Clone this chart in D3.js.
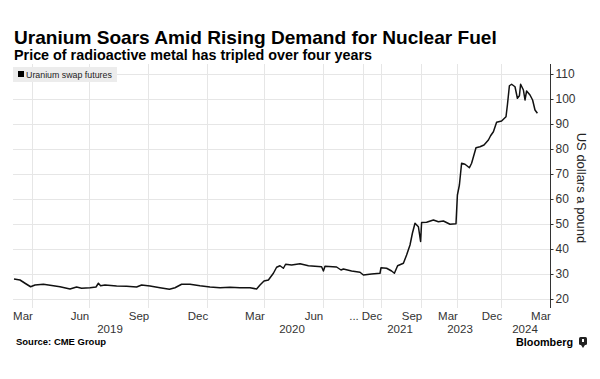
<!DOCTYPE html>
<html>
<head>
<meta charset="utf-8">
<script src="https://cdn.jsdelivr.net/npm/d3@7"></script>
<style>
  html, body { margin: 0; padding: 0; background: #fff; }
  svg { display: block; }
  text { font-family: "Liberation Sans", Arial, sans-serif; }
</style>
</head>
<body>
<svg id="chart" width="600" height="379"></svg>
<script>
// ---- Data ----
// Observation index along Bloomberg's compressed time axis, and the price (US$/lb)
const obs = [0, 3, 5.5, 8.3, 10.5, 14.7, 19.7, 23, 28, 31.3, 33.8, 38, 41, 42.2, 43.3, 45.5,
  51.3, 56.3, 61.3, 63.8, 68, 73, 77.7, 80.5, 83.8, 88, 93, 98, 103, 108, 113, 118, 121.3,
  123, 125, 127.2, 129.7, 131.3, 133, 134.7, 135.8, 138.8, 143, 147.2, 153.8, 154.7, 155.5,
  161.3, 163.5, 164.7, 168.8, 173, 174.7, 178.8, 183, 183.5, 186.3, 188.8, 190.2, 191.8,
  194.7, 196.3, 198, 199.2, 200.5, 202.2, 203.3, 203.8, 206.3, 209.7, 212.2, 214.7, 218,
  221, 221.7, 222.7, 223.8, 225.5, 227.7, 228.8, 231, 233, 235, 237.2, 238.3, 239.7, 241.3,
  243.8, 246, 246.7, 247.7, 248.8, 250.5, 251.7, 252.7, 253.3, 254.7, 255.5, 256.3, 258,
  259.3, 260.5, 261.7];
const price = [28.0, 27.6, 26.3, 24.9, 25.6, 25.9, 25.3, 24.9, 24.0, 24.8, 24.3, 24.5, 24.8, 26.3, 25.3, 25.6,
  25.2, 25.1, 24.8, 25.6, 25.2, 24.5, 23.9, 24.5, 25.9, 25.9, 25.3, 24.8, 24.5, 24.7, 24.5, 24.5, 24.0,
  25.6, 27.2, 27.6, 30.3, 32.7, 33.3, 32.3, 33.9, 33.6, 34.1, 33.3, 32.9, 31.2, 33.1,
  32.8, 31.6, 32.0, 31.2, 30.7, 29.6, 30.0, 30.3, 32.5, 32.3, 31.2, 30.3, 33.3,
  34.3, 37.6, 41.6, 46.3, 50.3, 48.9, 43.0, 50.6, 50.7, 51.6, 50.9, 51.2, 49.9,
  50.1, 61.6, 65.6, 74.3, 73.9, 72.5, 74.3, 80.5, 80.9, 81.6, 83.6, 85.3, 86.9, 90.7,
  91.2, 92.9, 97.6, 105.3, 105.9, 104.9, 100.3, 101.3, 105.9, 103.6, 99.6, 103.2, 101.6,
  99.6, 95.6, 94.3];

const monthLabels = ['Mar', 'Jun', 'Sep', 'Dec', 'Mar', 'Jun', '...', 'Dec', 'Sep', 'Mar', 'Dec', 'Mar'];
const monthPos    = [9, 37.5, 67, 96.5, 125, 154.5, 174.5, 183.5, 203.5, 221.5, 243.5, 268];
const yearLabels  = ['2019', '2020', '2021', '2023', '2024'];
const yearPos     = [48, 139, 193, 223, 255.5];
const yTicks      = [20, 30, 40, 50, 60, 70, 80, 90, 100, 110];

const title = 'Uranium Soars Amid Rising Demand for Nuclear Fuel';
const subtitle = 'Price of radioactive metal has tripled over four years';
const seriesName = 'Uranium swap futures';
const yTitle = 'US dollars a pound';
const source = 'Source: CME Group';

// ---- Layout ----
const svg = d3.select('#chart');
const x = d3.scaleLinear().domain([0, 268]).range([14, 550]);
const y = d3.scaleLinear().domain([16.4, 114]).range([308, 64]);
const plotTop = 64, plotBottom = 308;

function fitText(sel, target) {
  const len = sel.node().getComputedTextLength();
  const fs = parseFloat(sel.attr('font-size'));
  sel.attr('font-size', (fs * target / len).toFixed(2));
}

// Titles
const t1 = svg.append('text').attr('x', 14).attr('y', 44)
  .attr('font-size', 19).attr('font-weight', 700).attr('fill', '#000').text(title);
fitText(t1, 483);
const t2 = svg.append('text').attr('x', 14).attr('y', 59.5)
  .attr('font-size', 13).attr('font-weight', 700).attr('fill', '#000').text(subtitle);
fitText(t2, 358);

// Grid
const g = svg.append('g');
g.selectAll('line.h').data(yTicks).join('line')
  .attr('x1', 13).attr('x2', 550)
  .attr('y1', d => Math.round(y(d)) + 0.5).attr('y2', d => Math.round(y(d)) + 0.5)
  .attr('stroke', '#e6e6e6').attr('stroke-width', 1);
g.selectAll('line.v').data(monthPos).join('line')
  .attr('x1', d => Math.round(x(d)) + 0.5).attr('x2', d => Math.round(x(d)) + 0.5)
  .attr('y1', plotTop).attr('y2', plotBottom)
  .attr('stroke', '#e6e6e6').attr('stroke-width', 1);

// Legend
svg.append('rect').attr('x', 13).attr('y', 67).attr('width', 104).attr('height', 15).attr('fill', '#ececec');
svg.append('rect').attr('x', 18).attr('y', 71).attr('width', 6).attr('height', 6).attr('fill', '#000');
const lt = svg.append('text').attr('x', 26).attr('y', 78).attr('font-size', 10).attr('fill', '#222').text(seriesName);
fitText(lt, 86);

// Line
const pts = obs.map((o, i) => [o, price[i]]);
svg.append('path').datum(pts)
  .attr('fill', 'none').attr('stroke', '#111').attr('stroke-width', 1.5)
  .attr('stroke-linejoin', 'round')
  .attr('d', d3.line().x(d => x(d[0])).y(d => y(d[1])));

// Y axis (right)
const yAxis = d3.axisRight(y).tickValues(yTicks).tickSize(3).tickPadding(2).tickFormat(d3.format('d'));
const ya = svg.append('g').attr('transform', 'translate(550.5,0)').call(yAxis);
ya.select('.domain').attr('d', `M0,${plotTop}V${plotBottom}`).attr('stroke', '#333');
ya.selectAll('.tick line').attr('stroke', '#333');
ya.selectAll('.tick text').attr('font-size', 12).attr('fill', '#333')
  .attr('font-family', '"Liberation Sans", Arial, sans-serif');

svg.append('text').attr('transform', 'translate(577,188) rotate(90)')
  .attr('text-anchor', 'middle').attr('font-size', 13).attr('fill', '#222').text(yTitle);

// X axis labels
svg.append('g').selectAll('text').data(monthLabels).join('text')
  .attr('x', (d, i) => x(monthPos[i]) - 9).attr('y', 319.5)
  .attr('text-anchor', 'middle').attr('font-size', 11.5).attr('fill', '#333').text(d => d);
svg.append('g').selectAll('text').data(yearLabels).join('text')
  .attr('x', (d, i) => x(yearPos[i])).attr('y', 332.5)
  .attr('text-anchor', 'middle').attr('font-size', 11.5).attr('fill', '#333').text(d => d);

// Footer
const st = svg.append('text').attr('x', 16).attr('y', 345).attr('font-size', 10)
  .attr('font-weight', 700).attr('fill', '#000').text(source);
fitText(st, 90);
const bt = svg.append('text').attr('x', 516).attr('y', 346).attr('font-size', 11)
  .attr('font-weight', 700).attr('fill', '#000').text('Bloomberg');
fitText(bt, 57);
svg.append('rect').attr('x', 579).attr('y', 337).attr('width', 8).attr('height', 8).attr('rx', 1.5).attr('fill', '#222');
svg.append('path').attr('d', 'M581,345 L583,348 L585,345 Z').attr('fill', '#222');
svg.append('rect').attr('x', 582).attr('y', 339).attr('width', 2).attr('height', 3).attr('fill', '#fff');
</script>
</body>
</html>
